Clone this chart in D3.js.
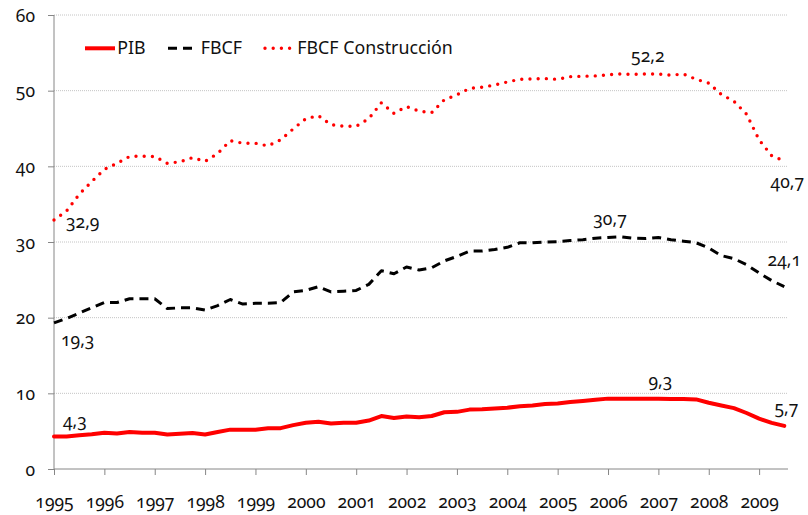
<!DOCTYPE html>
<html>
<head>
<meta charset="utf-8">
<script src="https://cdn.jsdelivr.net/npm/d3@7"></script>
<style>
  body { margin: 0; background: #fff; }
  svg text { font-family: "Noto Sans", "Open Sans", sans-serif; font-size: 17px; fill: #111; font-variant-numeric: oldstyle-nums; }
</style>
</head>
<body>
<div id="chart"></div>
<script>
// quarterly series, 1995 Q1 .. 2009 Q3
var years = ["1995","1996","1997","1998","1999","2000","2001","2002","2003","2004","2005","2006","2007","2008","2009"];
var yTicks = [0, 10, 20, 30, 40, 50, 60];

var pib = [4.3,4.3,4.45,4.6,4.8,4.7,4.9,4.8,4.8,4.55,
           4.65,4.75,4.55,4.9,5.2,5.2,5.2,5.4,5.4,5.8,
           6.1,6.25,6.0,6.1,6.1,6.4,7.0,6.75,6.95,6.85,
           7.0,7.5,7.55,7.85,7.9,8.0,8.1,8.3,8.4,8.6,
           8.65,8.85,9.0,9.15,9.3,9.3,9.3,9.3,9.3,9.25,
           9.25,9.2,8.75,8.4,8.05,7.4,6.65,6.1,5.7];

var fbcf = [19.3,19.9,20.6,21.3,22.0,22.0,22.5,22.5,22.5,21.2,
            21.3,21.3,21.0,21.6,22.4,21.8,21.9,21.9,22.0,23.4,
            23.6,24.1,23.4,23.5,23.6,24.4,26.2,25.8,26.7,26.3,
            26.6,27.5,28.1,28.8,28.8,29.0,29.3,29.9,29.9,30.0,
            30.05,30.2,30.3,30.5,30.6,30.7,30.5,30.45,30.6,30.3,
            30.1,29.9,29.2,28.2,27.8,27.0,25.9,24.9,24.1];

var construccion = [32.9,34.1,36.3,38.0,39.6,40.4,41.3,41.35,41.3,40.4,
                    40.6,41.15,40.65,41.7,43.4,43.05,43.05,42.7,43.5,44.95,
                    46.3,46.7,45.5,45.3,45.3,46.3,48.4,47.0,47.9,47.3,
                    47.1,48.8,49.45,50.3,50.45,50.75,51.15,51.5,51.55,51.6,
                    51.5,51.85,51.9,51.95,52.1,52.2,52.15,52.2,52.2,52.05,
                    52.2,51.5,51.0,49.5,48.6,46.9,43.5,41.4,40.7];

var seriesNames = ["PIB", "FBCF", "FBCF Construcción"];

// value labels: series index, quarter index, text
var labelSeries = [2, 1, 0, 2, 1, 0, 2, 1, 0];
var labelIndex  = [0, 0, 0, 47, 44, 48, 58, 58, 58];
var labelText   = ["32,9", "19,3", "4,3", "52,2", "30,7", "9,3", "40,7", "24,1", "5,7"];

var w = 808, h = 515;
var svg = d3.select("#chart").append("svg")
    .attr("width", w)
    .attr("height", h);

var x = d3.scaleLinear().domain([0, pib.length - 1]).range([54, 784.3]);
var y = d3.scaleLinear().domain([0, 60]).range([469, 15]);

// gridlines
svg.append("g")
    .selectAll("line")
    .data(yTicks.slice(1))
    .enter()
    .append("line")
    .attr("x1", 54)
    .attr("x2", 788)
    .attr("y1", function(d) { return y(d); })
    .attr("y2", function(d) { return y(d); })
    .attr("stroke", "#c4c4c4")
    .attr("stroke-width", 1)
    .attr("stroke-dasharray", "1,1");

// Y axis
var yAxis = svg.append("g")
    .attr("transform", "translate(54,0)")
    .call(d3.axisLeft(y).tickValues(yTicks).tickSize(6).tickPadding(13).tickFormat(d3.format("d")));
yAxis.select(".domain").attr("stroke", "#868686").attr("d", "M0," + y(0) + "V" + y(60));
yAxis.selectAll(".tick line").attr("stroke", "#868686");
yAxis.selectAll("text").style("font-size", "17.5px").attr("dy", "0.35em");

// X axis, one tick every 4 quarters
var xAxis = svg.append("g")
    .attr("transform", "translate(0," + y(0) + ")")
    .call(d3.axisBottom(x)
        .tickValues(years.map(function(d, i) { return i * 4; }))
        .tickFormat(function(d) { return years[d / 4]; })
        .tickSize(6)
        .tickPadding(21));
xAxis.select(".domain").attr("stroke", "#868686").attr("d", "M54,0H788");
xAxis.selectAll(".tick line").attr("stroke", "#868686");
xAxis.selectAll("text").style("font-size", "17.5px");

var line = d3.line()
    .x(function(d, i) { return x(i); })
    .y(function(d) { return y(d); });

var series = [pib, fbcf, construccion];
var styles = [
    {stroke: "#ff0000", width: 4, dash: null, cap: "round"},
    {stroke: "#000000", width: 3, dash: "9,6", cap: "butt"},
    {stroke: "#ff0000", width: 3.4, dash: "0,8.2", cap: "round"}
];

svg.append("g")
    .selectAll("path")
    .data(series)
    .enter()
    .append("path")
    .attr("d", function(d) { return line(d); })
    .attr("fill", "none")
    .attr("stroke", function(d, i) { return styles[i].stroke; })
    .attr("stroke-width", function(d, i) { return styles[i].width; })
    .attr("stroke-dasharray", function(d, i) { return styles[i].dash; })
    .attr("stroke-linecap", function(d, i) { return styles[i].cap; })
    .attr("stroke-linejoin", "round");

// value labels (offsets from the data point; old-style digits sit a bit low)
var labelOffsets = [
    [12, 8, "start"], [7, 23.5, "start"], [9, -9.8, "start"],
    [2, -12.5, "middle"], [2, -12, "middle"], [2, -11.5, "middle"],
    [3, 27, "middle"], [0, -20.2, "middle"], [2, -12, "middle"]
];
svg.append("g")
    .selectAll("text")
    .data(labelText)
    .enter()
    .append("text")
    .attr("x", function(d, i) { return x(labelIndex[i]) + labelOffsets[i][0]; })
    .attr("y", function(d, i) { return y(series[labelSeries[i]][labelIndex[i]]) + labelOffsets[i][1]; })
    .attr("text-anchor", function(d, i) { return labelOffsets[i][2]; })
    .style("font-size", "17.5px")
    .text(function(d) { return d; });

// legend
var legendX = [[85, 115, 117.3], [168, 195, 200.7], [265, 292, 297.3]];
var legend = svg.append("g");
seriesNames.forEach(function(name, i) {
    legend.append("line")
        .attr("x1", legendX[i][0])
        .attr("x2", legendX[i][1])
        .attr("y1", 48.3)
        .attr("y2", 48.3)
        .attr("stroke", styles[i].stroke)
        .attr("stroke-width", styles[i].width)
        .attr("stroke-dasharray", styles[i].dash)
        .attr("stroke-linecap", i == 0 ? "butt" : styles[i].cap);
    legend.append("text")
        .attr("x", legendX[i][2])
        .attr("y", 54.2)
        .style("font-size", "17.8px")
        .text(name);
});
</script>
</body>
</html>
